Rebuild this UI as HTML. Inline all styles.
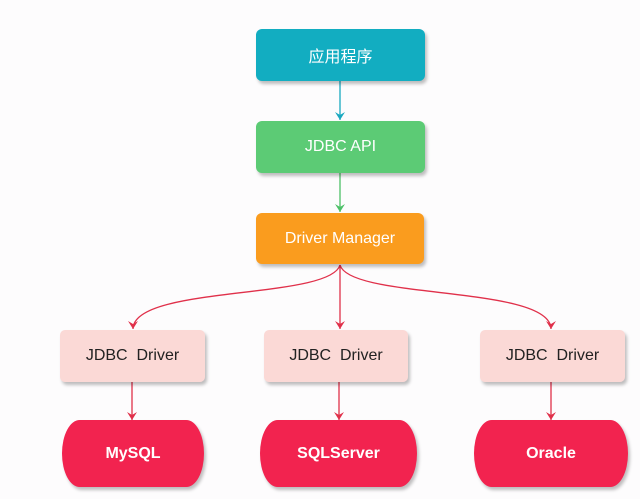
<!DOCTYPE html>
<html><head><meta charset="utf-8"><style>
body{margin:0;width:640px;height:499px;background:#fdfcfd;font-family:"Liberation Sans","Noto Sans CJK SC",sans-serif;overflow:hidden}
.b{position:absolute;display:flex;align-items:center;justify-content:center;box-shadow:2px 3px 3px rgba(0,0,0,0.25);font-size:16px}
</style></head><body>
<svg width="640" height="499" style="position:absolute;left:0;top:0">
<defs>
<marker id="c" markerWidth="10" markerHeight="10" refX="8" refY="5" orient="auto" markerUnits="userSpaceOnUse"><path d="M0,0 L8,5 L0,10 L3,5 Z" fill="#19a8c0"/></marker>
<marker id="g" markerWidth="10" markerHeight="10" refX="8" refY="5" orient="auto" markerUnits="userSpaceOnUse"><path d="M0,0 L8,5 L0,10 L3,5 Z" fill="#4cc067"/></marker>
<marker id="r" markerWidth="10" markerHeight="10" refX="8" refY="5" orient="auto" markerUnits="userSpaceOnUse"><path d="M0,0 L8,5 L0,10 L3,5 Z" fill="#e0304a"/></marker>
</defs>
<g fill="none" stroke-width="1.3">
<path d="M340 81 V120" stroke="#19a8c0" marker-end="url(#c)"/>
<path d="M340 173 V212" stroke="#4cc067" marker-end="url(#g)"/>
<g stroke="#e0304a">
<path d="M340 265 C330 300 133 285 133 329" marker-end="url(#r)"/>
<path d="M340 265 V329" marker-end="url(#r)"/>
<path d="M340 265 C350 300 551 285 551 329" marker-end="url(#r)"/>
<path d="M132 382 V420" marker-end="url(#r)"/>
<path d="M339 382 V420" marker-end="url(#r)"/>
<path d="M551 382 V420" marker-end="url(#r)"/>
</g></g></svg>
<div class="b" style="left:256px;top:29px;width:169px;height:52px;background:#12adc1;color:#fff;border-radius:6px">应用程序</div>
<div class="b" style="left:256px;top:121px;width:169px;height:52px;background:#5ccb75;color:#fff;border-radius:6px">JDBC API</div>
<div class="b" style="left:256px;top:213px;width:168px;height:51px;background:#fa9c1e;color:#fff;border-radius:6px">Driver Manager</div>
<div class="b" style="left:60px;top:330px;width:145px;height:52px;background:#fbd9d6;color:#222;border-radius:5px">JDBC&nbsp; Driver</div>
<div class="b" style="left:264px;top:330px;width:144px;height:52px;background:#fbd9d6;color:#222;border-radius:5px">JDBC&nbsp; Driver</div>
<div class="b" style="left:480px;top:330px;width:145px;height:52px;background:#fbd9d6;color:#222;border-radius:5px">JDBC&nbsp; Driver</div>
<div class="b" style="left:62px;top:420px;width:142px;height:67px;background:#f2234f;color:#fff;border-radius:18px/34px;font-weight:bold">MySQL</div>
<div class="b" style="left:260px;top:420px;width:157px;height:67px;background:#f2234f;color:#fff;border-radius:18px/34px;font-weight:bold">SQLServer</div>
<div class="b" style="left:474px;top:420px;width:154px;height:67px;background:#f2234f;color:#fff;border-radius:18px/34px;font-weight:bold">Oracle</div>
</body></html>
